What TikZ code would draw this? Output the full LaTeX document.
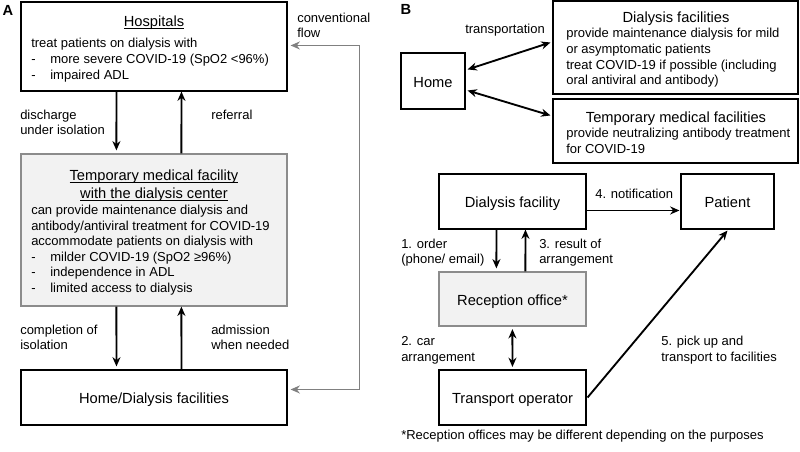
\documentclass[tikz,border=0pt]{standalone}
\usepackage{fontspec}
\setmainfont{Liberation Sans}
\usetikzlibrary{calc,arrows.meta}
\newcommand\bodyf{\fontsize{9.75}{12}\selectfont}
\newcommand\titf{\fontsize{11}{13}\selectfont}
\newcommand\myul[1]{\setbox0\hbox{#1}\rlap{\rule[-1.7pt]{\wd0}{0.55pt}}\box0}
\newcommand\dsh{\makebox[14.3pt][l]{-}}
\definecolor{boxgray}{HTML}{F2F2F2}
\definecolor{edgegray}{HTML}{8C8C8C}
\definecolor{flowgray}{HTML}{808080}
\tikzset{
  bx/.style={draw=black, line width=0.8pt, inner sep=0pt},
  gbx/.style={draw=edgegray, fill=boxgray, line width=0.9pt, inner sep=0pt},
  tx/.style={inner sep=0pt, anchor=west, font=\bodyf, text height=7pt, text depth=0pt},
  tt/.style={inner sep=0pt, anchor=center, font=\titf, text height=7.9pt, text depth=0pt},
  arr/.style={line width=1.4pt, -{Stealth[length=7pt,width=6pt]}},
  darr/.style={line width=1.4pt, {Stealth[length=7pt,width=6pt]}-{Stealth[length=7pt,width=6pt]}},
  garr/.style={line width=1.4pt, draw=flowgray, {Stealth[length=7pt,width=6pt]}-{Stealth[length=7pt,width=6pt]}},
  pnl/.style={inner sep=0pt, anchor=center, font=\titf\bfseries}
}
\begin{document}
\begin{tikzpicture}[x=0.75pt,y=-0.75pt]
\useasboundingbox (0,0) rectangle (800,451);
% ---------------- Panel A ----------------
\node[pnl] (lA) at (8,10) {A};
\node[bx, minimum width=199.5pt, minimum height=66.75pt] (hosp) at (154,46.5) {};
\node[gbx, minimum width=199.5pt, minimum height=114pt] (temp) at (154,230) {};
\node[bx, minimum width=199.5pt, minimum height=41.25pt] (homeA) at (154,397.5) {};

\node[tt] (h0) at (154,21) {\myul{Hospitals}};
\node[tx] (h1) at (31,43.3) {treat patients on dialysis with};
\node[tx] (h2) at (31,59.3) {\dsh more severe COVID-19 (SpO2 <96\%)};
\node[tx] (h3) at (31,75) {\dsh impaired ADL};

\node[tt] (t0) at (154,175) {\myul{Temporary medical facility}};
\node[tt] (t0b) at (154,193) {\myul{with the dialysis center}};
\node[tx] (t1) at (31,210) {can provide maintenance dialysis and};
\node[tx] (t2) at (31,225.5) {antibody/antiviral treatment for COVID-19};
\node[tx] (t3) at (31,241) {accommodate patients on dialysis with};
\node[tx] (t4) at (31,256.5) {\dsh milder COVID-19 (SpO2 ≥96\%)};
\node[tx] (t5) at (31,272) {\dsh independence in ADL};
\node[tx] (t6) at (31,287.5) {\dsh limited access to dialysis};

\node[tt] (hd) at (154,398) {Home/Dialysis facilities};

\draw[arr] ($(hosp.south west)+(96,0)$) -- ($(temp.north west)+(96,-3)$);
\draw[arr] ($(temp.north west)+(161,0)$) -- ($(hosp.south west)+(161,0)$);
\draw[arr] ($(temp.south west)+(96,0)$) -- ($(homeA.north west)+(96,-3)$);
\draw[arr] ($(homeA.north west)+(161,0)$) -- ($(temp.south west)+(161,0)$);
\draw[garr] ($(hosp.north east)+(3,44)$) -- ++(69,0) |- ($(homeA.north east)+(3,20)$);

\node[tx] (l1) at (20,115) {discharge};
\node[tx] (l1b) at (20,130) {under isolation};
\node[tx] (l2) at (211,115) {referral};
\node[tx] (l3) at (20,330) {completion of};
\node[tx] (l3b) at (20,345) {isolation};
\node[tx] (l4) at (211,330) {admission};
\node[tx] (l4b) at (211,345) {when needed};
\node[tx] (l5) at (297,17.5) {conventional};
\node[tx] (l5b) at (297,32.7) {flow};

% ---------------- Panel B ----------------
\node[pnl] (lB) at (406,9) {B};
\node[bx, minimum width=48pt, minimum height=42pt] (homeB) at (433,81) {};
\node[tt] (hb) at (433,82) {Home};
\node[bx, minimum width=183.75pt, minimum height=69.75pt] (dfac) at (675.5,47.5) {};
\node[bx, minimum width=183.75pt, minimum height=48pt] (tmf) at (675.5,131) {};

\node[tt] (d0) at (676,17) {Dialysis facilities};
\node[tx] (d1) at (566,33.3) {provide maintenance dialysis for mild};
\node[tx] (d2) at (566,49.3) {or asymptomatic patients};
\node[tx] (d3) at (566,65) {treat COVID-19 if possible (including};
\node[tx] (d4) at (566,80.3) {oral antiviral and antibody)};
\node[tt] (m0) at (676,117) {Temporary medical facilities};
\node[tx] (m1) at (566,133.3) {provide neutralizing antibody treatment};
\node[tx] (m2) at (566,148.5) {for COVID-19};

\node[tx, anchor=center] (tr) at (505,29) {transportation};
\draw[darr] ($(homeB.north east)+(2,17)$) -- ($(dfac.north west)+(-2,42)$);
\draw[darr] ($(homeB.north east)+(2,38)$) -- ($(tmf.north west)+(-2,17)$);

\node[bx, minimum width=110.25pt, minimum height=41.25pt] (df) at (512.5,201.5) {};
\node[bx, minimum width=69.75pt, minimum height=41.25pt] (pat) at (727.5,201.5) {};
\node[gbx, minimum width=110.25pt, minimum height=40.5pt] (rec) at (512.5,299) {};
\node[bx, minimum width=110.25pt, minimum height=41.25pt] (trans) at (512.5,397.5) {};
\node[tt] (dft) at (512.5,202) {Dialysis facility};
\node[tt] (patt) at (727.5,202) {Patient};
\node[tt] (rect) at (512.5,300) {Reception office*};
\node[tt] (trt) at (512.5,398) {Transport operator};

\draw[arr] ($(df.north east)+(0,37)$) -- ($(pat.north west)+(-1,37)$);
\draw[arr] ($(df.south west)+(58,0)$) -- ($(rec.north west)+(58,-3)$);
\draw[arr] ($(rec.north west)+(87,0)$) -- ($(df.south west)+(87,0)$);
\draw[darr] ($(rec.south west)+(74,2.5)$) -- ($(trans.north west)+(74,-2.5)$);
\draw[arr] ($(trans.east)+(1,0)$) -- ($(pat.south)+(0,1)$);

\node[tx] (n4) at (595,194) {4. notification};
\node[tx] (n1) at (401,243.5) {1. order};
\node[tx] (n1b) at (401,259) {(phone/ email)};
\node[tx] (n3) at (539,243.5) {3. result of};
\node[tx] (n3b) at (539,259) {arrangement};
\node[tx] (n2) at (401,341) {2. car};
\node[tx] (n2b) at (401,356.5) {arrangement};
\node[tx] (n5) at (661,341) {5. pick up and};
\node[tx] (n5b) at (661,356.5) {transport to facilities};
\node[tx] (fn) at (401,435) {*Reception offices may be different depending on the purposes};
\end{tikzpicture}
\end{document}
